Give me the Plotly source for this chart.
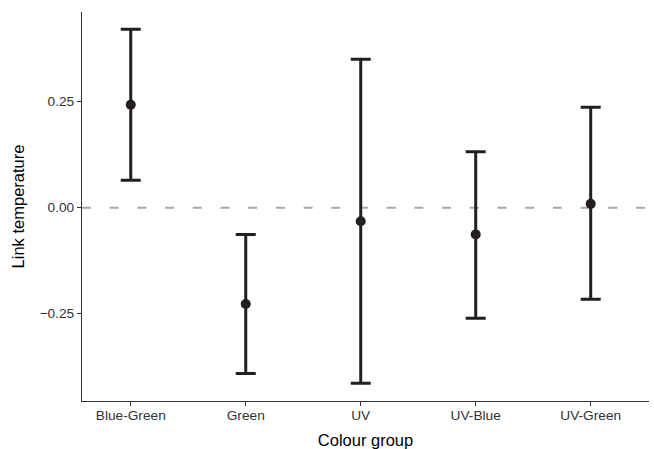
import plotly.graph_objects as go

groups = ["Blue-Green", "Green", "UV", "UV-Blue", "UV-Green"]
estimate = [0.243, -0.227, -0.032, -0.063, 0.009]
lower = [0.065, -0.391, -0.414, -0.261, -0.216]
upper = [0.421, -0.063, 0.350, 0.132, 0.237]
y_ticks = [-0.25, 0.0, 0.25]

err_plus = [u - e for u, e in zip(upper, estimate)]
err_minus = [e - l for e, l in zip(estimate, lower)]

ink = "#231f20"
fig = go.Figure()
fig.add_shape(type="line", xref="paper", yref="y", x0=0, x1=1, y0=0, y1=0,
              line=dict(color="#a8a8a8", width=2, dash="9px,18.7px"), layer="below")
fig.add_trace(go.Scatter(
    x=groups, y=estimate, mode="markers",
    marker=dict(size=10, color=ink),
    error_y=dict(type="data", symmetric=False, array=err_plus, arrayminus=err_minus,
                 color=ink, thickness=3, width=10),
    showlegend=False,
))

font_family = "Liberation Sans, Arial, sans-serif"
fig.update_layout(
    template="none",
    width=654, height=449,
    margin=dict(l=82, r=5, t=12, b=48, pad=0),
    plot_bgcolor="white", paper_bgcolor="white",
    font=dict(family=font_family, color="black"),
    xaxis=dict(
        type="category", range=[-0.424, 4.507], automargin=False,
        showline=True, linecolor="#333333", linewidth=1.2,
        ticks="outside", ticklen=4, tickcolor="#333333", tickwidth=1.2,
        ticklabelstandoff=-3,
        tickfont=dict(size=13.7, color="#333333"),
        showgrid=False, zeroline=False,
        title=dict(text="Colour group", font=dict(size=16.5, color="black"), standoff=12),
    ),
    yaxis=dict(
        range=[-0.456, 0.4616], automargin=False,
        tickvals=y_ticks, tickformat=".2f",
        showline=True, linecolor="#333333", linewidth=1.2,
        ticks="outside", ticklen=4, tickcolor="#333333", tickwidth=1.2,
        tickfont=dict(size=13.7, color="#333333"),
        showgrid=False, zeroline=False,
        title=dict(text="Link temperature", font=dict(size=16.5, color="black"), standoff=10),
    ),
)

fig.write_html(
    "out.html",
    config={"displayModeBar": False},
    post_script="document.body.style.margin='0';document.body.style.overflow='hidden';",
)
